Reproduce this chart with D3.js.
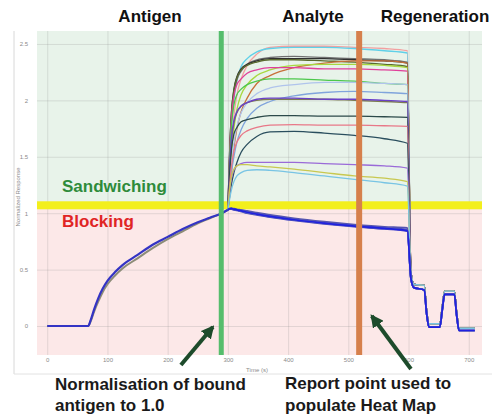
<!DOCTYPE html>
<html>
<head>
<meta charset="utf-8">
<script src="https://cdn.jsdelivr.net/npm/d3@7"></script>
<style>
  body { margin: 0; background: #fff; }
  svg { display: block; font-family: "Liberation Sans", Arial, sans-serif; }
</style>
</head>
<body>
<svg id="chart" width="501" height="417"></svg>
<script>
// ---- data ----
const xTicks = [0, 100, 200, 300, 400, 500, 600, 700];
const xTickLabels = ["0", "100", "200", "300", "400", "500", "600", "700"];
const yTicks = [0, 0.5, 1, 1.5, 2, 2.5];
const yTickLabels = ["0", "0.5", "1", "1.5", "2", "2.5"];

const threshold = 1.07;      // sandwiching / blocking cut
const normaliseTime = 289;   // green marker
const reportTime = 518;      // orange marker

// antigen loading phase (all traces overlap)
const antigenTime = [0, 68, 72, 78, 85, 92, 100, 113, 125, 150, 175, 200, 225, 250, 270, 290, 300];
const antigenBlue = [0, 0, 0.05, 0.15, 0.25, 0.33, 0.40, 0.48, 0.54, 0.63, 0.72, 0.79, 0.86, 0.92, 0.96, 1.0, 1.03];
const antigenGrey = [0, 0, 0.04, 0.13, 0.22, 0.30, 0.37, 0.45, 0.51, 0.60, 0.69, 0.77, 0.84, 0.91, 0.955, 1.0, 1.03];

// analyte phase
const analyteTime = [300, 303, 306, 310, 315, 322, 332, 348, 370, 410, 460, 510, 560, 598];
const sandwichValues = [
  [1.03, 1.32, 1.61, 1.86, 2.05, 2.19, 2.31, 2.41, 2.47, 2.48, 2.48, 2.47, 2.46, 2.44],
  [1.03, 1.46, 1.78, 2.01, 2.18, 2.30, 2.37, 2.43, 2.46, 2.47, 2.47, 2.46, 2.44, 2.42],
  [1.03, 1.50, 1.84, 2.05, 2.18, 2.26, 2.32, 2.36, 2.38, 2.39, 2.38, 2.37, 2.36, 2.34],
  [1.03, 1.57, 1.90, 2.10, 2.21, 2.28, 2.32, 2.35, 2.37, 2.37, 2.37, 2.36, 2.35, 2.33],
  [1.03, 1.56, 1.89, 2.09, 2.20, 2.27, 2.31, 2.34, 2.36, 2.36, 2.35, 2.34, 2.32, 2.30],
  [1.03, 1.20, 1.38, 1.58, 1.75, 1.90, 2.02, 2.15, 2.22, 2.29, 2.33, 2.35, 2.35, 2.33],
  [1.03, 1.30, 1.55, 1.75, 1.92, 2.05, 2.14, 2.22, 2.27, 2.31, 2.32, 2.32, 2.31, 2.29],
  [1.03, 1.53, 1.85, 2.04, 2.14, 2.19, 2.24, 2.27, 2.29, 2.29, 2.28, 2.28, 2.27, 2.26],
  [1.03, 1.49, 1.78, 1.96, 2.05, 2.10, 2.14, 2.17, 2.19, 2.19, 2.18, 2.17, 2.15, 2.14],
  [1.03, 1.25, 1.45, 1.62, 1.77, 1.89, 1.98, 2.06, 2.11, 2.14, 2.16, 2.16, 2.15, 2.14],
  [1.03, 1.20, 1.36, 1.50, 1.63, 1.74, 1.84, 1.93, 1.99, 2.04, 2.07, 2.08, 2.07, 2.06],
  [1.03, 1.40, 1.64, 1.80, 1.89, 1.95, 1.98, 2.00, 2.01, 2.01, 2.01, 2.00, 1.99, 1.98],
  [1.03, 1.43, 1.67, 1.82, 1.90, 1.95, 1.98, 2.01, 2.02, 2.02, 2.01, 2.01, 2.00, 1.99],
  [1.03, 1.36, 1.57, 1.70, 1.76, 1.81, 1.83, 1.85, 1.865, 1.865, 1.86, 1.86, 1.855, 1.85],
  [1.03, 1.25, 1.42, 1.55, 1.63, 1.69, 1.73, 1.76, 1.78, 1.785, 1.78, 1.78, 1.775, 1.77],
  [1.03, 1.15, 1.26, 1.36, 1.45, 1.54, 1.61, 1.68, 1.72, 1.725, 1.71, 1.69, 1.66, 1.62],
  [1.03, 1.20, 1.31, 1.38, 1.42, 1.44, 1.45, 1.45, 1.45, 1.45, 1.44, 1.43, 1.42, 1.40],
  [1.03, 1.22, 1.33, 1.39, 1.42, 1.43, 1.43, 1.42, 1.41, 1.39, 1.36, 1.33, 1.31, 1.28],
  [1.03, 1.13, 1.21, 1.28, 1.33, 1.36, 1.38, 1.385, 1.38, 1.36, 1.33, 1.30, 1.27, 1.24]
];
const blockingValues = [
  [1.03, 1.04, 1.04, 1.035, 1.03, 1.02, 1.01, 0.995, 0.975, 0.945, 0.915, 0.89, 0.87, 0.855],
  [1.03, 1.035, 1.035, 1.03, 1.025, 1.015, 1.0, 0.985, 0.965, 0.935, 0.905, 0.88, 0.86, 0.84],
  [1.03, 1.04, 1.045, 1.04, 1.035, 1.03, 1.02, 1.005, 0.985, 0.955, 0.925, 0.90, 0.88, 0.87],
  [1.03, 1.04, 1.04, 1.035, 1.028, 1.018, 1.005, 0.99, 0.97, 0.94, 0.91, 0.885, 0.865, 0.85],
  [1.03, 1.038, 1.04, 1.036, 1.03, 1.02, 1.008, 0.992, 0.972, 0.942, 0.912, 0.886, 0.866, 0.845]
];

// regeneration phase
const regenTime = [604, 609, 626, 630, 634, 652, 656, 660, 676, 680, 684, 710];
const regenHigh = [0.48, 0.37, 0.36, 0.14, 0.02, 0.02, 0.17, 0.31, 0.31, 0.12, -0.02, -0.02];
const regenLow = [0.42, 0.34, 0.32, 0.11, -0.01, -0.01, 0.14, 0.28, 0.28, 0.09, -0.04, -0.04];

// ---- styles ----
const sandwichColors = ["#f2a0a0", "#5fd0e8", "#707070", "#303030", "#5a6a30", "#c8703a", "#a8d840",
  "#e0409a", "#4cc84c", "#b0c4ec", "#80a4dc", "#7c7c52", "#6a40c8", "#2c4a4a", "#e87888",
  "#2a4e5e", "#9a6ad8", "#c8c850", "#78c4e4"];
const blockingColors = ["#2a2ad6", "#3b3bc4", "#5555b0", "#6a78a8", "#2020e0"];

const svg = d3.select("#chart");
const plot = { left: 37, right: 482, top: 31, bottom: 355 };

const x = d3.scaleLinear().domain([-17, 722]).range([plot.left, plot.right]);
const y = d3.scaleLinear().domain([-0.257, 2.615]).range([plot.bottom, plot.top]);

// frame of the original screenshot
svg.append("line").attr("x1", 14).attr("x2", 14).attr("y1", 31).attr("y2", 374)
  .attr("stroke", "#d8d8d8").attr("stroke-width", 1);
svg.append("line").attr("x1", 14).attr("x2", 492).attr("y1", 374).attr("y2", 374)
  .attr("stroke", "#e2e2e2").attr("stroke-width", 1);

// zones
svg.append("rect").attr("x", plot.left).attr("y", plot.top)
  .attr("width", plot.right - plot.left).attr("height", y(threshold) - plot.top)
  .attr("fill", "#e8f3ea");
svg.append("rect").attr("x", plot.left).attr("y", y(threshold))
  .attr("width", plot.right - plot.left).attr("height", plot.bottom - y(threshold))
  .attr("fill", "#fce8e8");

// grid + axes
const gx = svg.append("g")
  .attr("transform", `translate(0,${plot.bottom})`)
  .call(d3.axisBottom(x).tickValues(xTicks).tickFormat((d, i) => xTickLabels[i])
    .tickSize(-(plot.bottom - plot.top)).tickPadding(3));
const gy = svg.append("g")
  .attr("transform", `translate(${plot.left},0)`)
  .call(d3.axisLeft(y).tickValues(yTicks).tickFormat((d, i) => yTickLabels[i])
    .tickSize(-(plot.right - plot.left)).tickPadding(9));
[gx, gy].forEach(g => {
  g.select(".domain").remove();
  g.selectAll(".tick line").attr("stroke", "#8a8a8a").attr("stroke-opacity", 0.22);
  g.selectAll(".tick text").attr("fill", "#8a8a8a").style("font-size", "6px");
});

svg.append("text").attr("x", 257).attr("y", 372).attr("text-anchor", "middle")
  .attr("fill", "#8a8a8a").style("font-size", "6px").text("Time (s)");
svg.append("text").attr("transform", "translate(20,197) rotate(-90)").attr("text-anchor", "middle")
  .attr("fill", "#8a8a8a").style("font-size", "6px").text("Normalized Response");

// threshold band
svg.append("rect").attr("x", plot.left).attr("y", y(threshold) - 4)
  .attr("width", plot.right - plot.left).attr("height", 8).attr("fill", "#f3ef1c");

// curves
svg.append("clipPath").attr("id", "clip").append("rect")
  .attr("x", plot.left).attr("y", plot.top)
  .attr("width", plot.right - plot.left).attr("height", plot.bottom - plot.top);
const curves = svg.append("g").attr("clip-path", "url(#clip)");
const line = d3.line().x(d => x(d[0])).y(d => y(d[1])).curve(d3.curveMonotoneX);

const joinSeries = (vals, regen) =>
  analyteTime.map((t, i) => [t, vals[i]]).concat(regenTime.map((t, i) => [t, regen[i]]));

sandwichValues.forEach((vals, i) => {
  curves.append("path")
    .datum(joinSeries(vals, regenHigh))
    .attr("fill", "none")
    .attr("stroke", sandwichColors[i])
    .attr("stroke-width", 1.3)
    .attr("d", line);
});

curves.append("path")
  .datum(antigenTime.map((t, i) => [t, antigenGrey[i]]))
  .attr("fill", "none").attr("stroke", "#8c8c78").attr("stroke-width", 2)
  .attr("d", line);
curves.append("path")
  .datum(antigenTime.map((t, i) => [t, antigenBlue[i]]))
  .attr("fill", "none").attr("stroke", "#3434c4").attr("stroke-width", 2.2)
  .attr("d", line);

blockingValues.forEach((vals, i) => {
  curves.append("path")
    .datum(joinSeries(vals, regenLow))
    .attr("fill", "none")
    .attr("stroke", blockingColors[i])
    .attr("stroke-width", 1.7)
    .attr("d", line);
});

// phase markers
svg.append("rect").attr("x", x(normaliseTime) - 2.5).attr("y", plot.top)
  .attr("width", 5).attr("height", plot.bottom - plot.top).attr("fill", "#55bd6c");
svg.append("rect").attr("x", x(reportTime) - 3).attr("y", plot.top)
  .attr("width", 6).attr("height", plot.bottom - plot.top).attr("fill", "#d6804c");

// phase titles
const bold = (tx, ty, txt, color, anchor) =>
  svg.append("text").attr("x", tx).attr("y", ty).attr("text-anchor", anchor || "start")
    .attr("fill", color).style("font-size", "17px").style("font-weight", "bold").text(txt);

bold(150, 22, "Antigen", "#111", "middle");
bold(313, 22, "Analyte", "#111", "middle");
bold(435, 22, "Regeneration", "#111", "middle");
bold(62, 192, "Sandwiching", "#2e8b3a");
bold(62, 227, "Blocking", "#e02424");
bold(55, 390, "Normalisation of bound", "#1a1a1a");
bold(55, 411, "antigen to 1.0", "#1a1a1a");
bold(285, 389, "Report point used to", "#1a1a1a");
bold(285, 411, "populate Heat Map", "#1a1a1a");

// arrows (tail -> tip in data units)
const arrows = [
  { from: [222, -0.346], to: [275, -0.009] },
  { from: [604, -0.381], to: [539, 0.089] }
];
svg.append("defs").append("marker")
  .attr("id", "head").attr("markerUnits", "userSpaceOnUse")
  .attr("viewBox", "0 0 12 12").attr("refX", 10).attr("refY", 6)
  .attr("markerWidth", 13).attr("markerHeight", 13).attr("orient", "auto")
  .append("path").attr("d", "M0,0 L12,6 L0,12 Z").attr("fill", "#1d4b2b");
arrows.forEach(a => {
  svg.append("line")
    .attr("x1", x(a.from[0])).attr("y1", y(a.from[1]))
    .attr("x2", x(a.to[0])).attr("y2", y(a.to[1]))
    .attr("stroke", "#1d4b2b").attr("stroke-width", 4)
    .attr("marker-end", "url(#head)");
});
</script>
</body>
</html>
